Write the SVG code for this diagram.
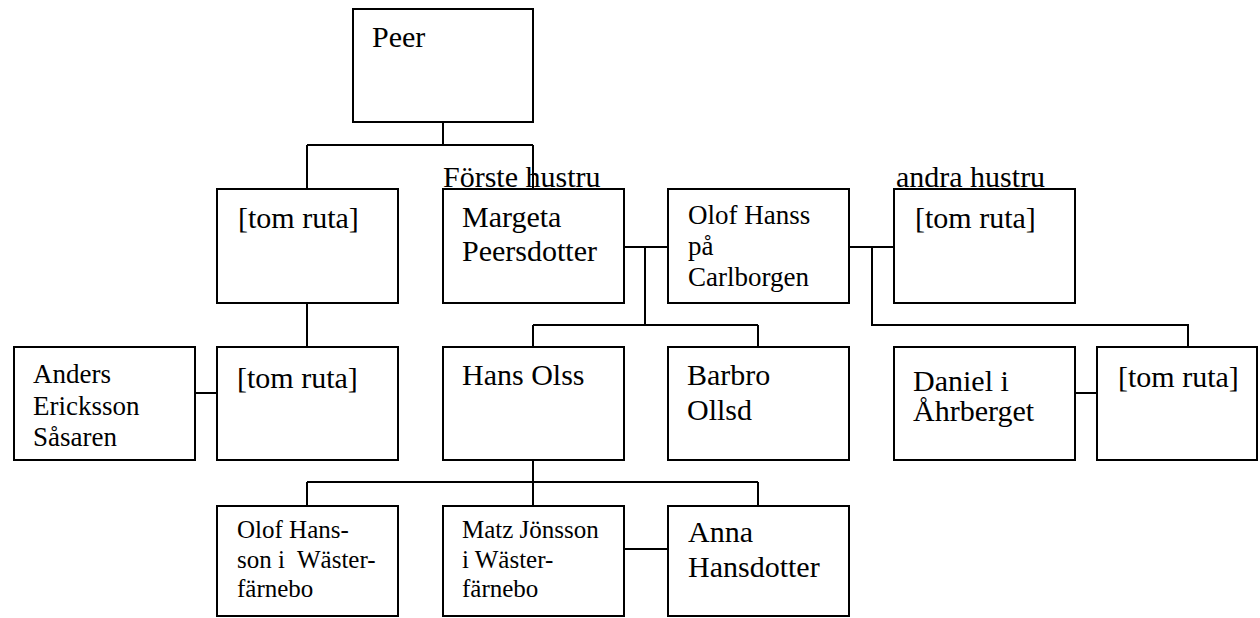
<svg xmlns="http://www.w3.org/2000/svg" width="1260" height="618" viewBox="0 0 1260 618">
<style>
rect{fill:#fff;stroke:#000;stroke-width:2}
#connectors path{fill:none;stroke:#000;stroke-width:2}
text{fill:#000}
.l{font-size:30px}
.m{font-size:27px}
.s{font-size:25px}
</style>
<rect x="0" y="0" width="1260" height="618" style="fill:#fff;stroke:none"/>
<g id="connectors">
<path d="M443 122V145M307 145H533M307 145V189M533 145V189"/>
<path d="M307 303V347M195 393H217"/>
<path d="M624 247H668M645 247V325M533 325H758M533 325V347M758 325V347"/>
<path d="M849 247H894M872 247V325H1188V347M1075 393H1097"/>
<path d="M533 460V482M307 482H758M307 482V506M533 482V506M758 482V506M624 549H668"/>
</g>
<g font-family="'Liberation Serif', 'Times New Roman', Times, 'DejaVu Serif', serif">
<g id="peer"><rect x="353" y="9" width="180" height="113"/><text class="l" x="372" y="47">Peer</text></g>
<g id="tom1"><rect x="217" y="189" width="181" height="114"/><text class="l" x="238" y="228">[tom ruta]</text></g>
<g id="forste-label"><text class="l" x="443" y="187">Förste hustru</text></g>
<g id="margeta"><rect x="443" y="189" width="181" height="114"/><text class="l" x="462" y="227">Margeta</text><text class="l" x="462" y="261">Peersdotter</text></g>
<g id="olof"><rect x="668" y="189" width="181" height="114"/><text class="m" x="688" y="224">Olof Hanss</text><text class="m" x="688" y="255">på</text><text class="m" x="688" y="286">Carlborgen</text></g>
<g id="andra-label"><text class="l" x="896" y="187">andra hustru</text></g>
<g id="tom2"><rect x="894" y="189" width="181" height="114"/><text class="l" x="915" y="228">[tom ruta]</text></g>
<g id="anders"><rect x="14" y="347" width="181" height="113"/><text class="m" x="33" y="383">Anders</text><text class="m" x="33" y="415">Ericksson</text><text class="m" x="33" y="446">Såsaren</text></g>
<g id="tom3"><rect x="217" y="347" width="181" height="113"/><text class="l" x="237" y="388">[tom ruta]</text></g>
<g id="hans"><rect x="443" y="347" width="181" height="113"/><text class="l" x="462" y="385">Hans Olss</text></g>
<g id="barbro"><rect x="668" y="347" width="181" height="113"/><text class="l" x="687" y="385">Barbro</text><text class="l" x="687" y="420">Ollsd</text></g>
<g id="daniel"><rect x="894" y="347" width="181" height="113"/><text class="l" x="913" y="391">Daniel i</text><text class="l" x="913" y="421">Åhrberget</text></g>
<g id="tom4"><rect x="1097" y="347" width="160" height="113"/><text class="l" x="1118" y="387">[tom ruta]</text></g>
<g id="olof2"><rect x="217" y="506" width="181" height="110"/><text class="s" x="237" y="538">Olof Hans-</text><text class="s" x="237" y="568" xml:space="preserve">son i  Wäster-</text><text class="s" x="237" y="597">färnebo</text></g>
<g id="matz"><rect x="443" y="506" width="181" height="110"/><text class="s" x="462" y="538">Matz Jönsson</text><text class="s" x="462" y="568">i Wäster-</text><text class="s" x="462" y="597">färnebo</text></g>
<g id="anna"><rect x="668" y="506" width="181" height="110"/><text class="l" x="688" y="542">Anna</text><text class="l" x="688" y="577">Hansdotter</text></g>
</g>
</svg>
